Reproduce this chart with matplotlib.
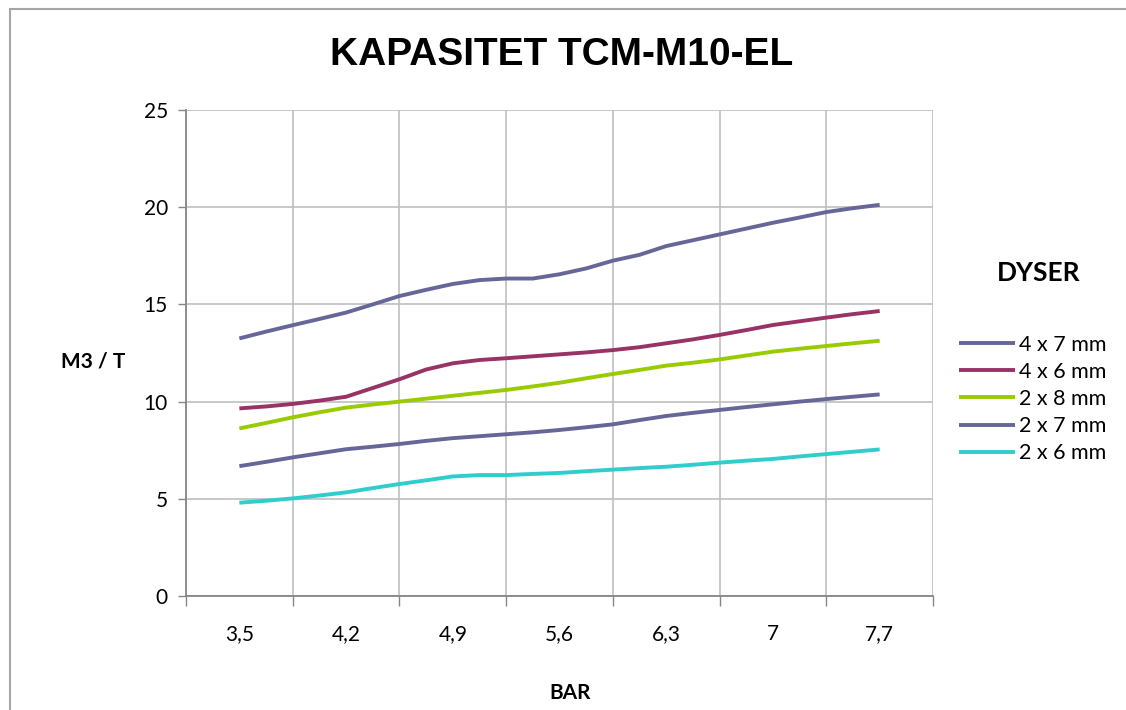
import numpy as np
import matplotlib
matplotlib.use('Agg')
import matplotlib.pyplot as plt
from matplotlib.patches import Rectangle

# Pressure (bar), one point per 0.175 bar from 3.5 to 7.7
bar = np.round(np.arange(25) * 0.175 + 3.5, 3)
tick_labels = ['3,5', '4,2', '4,9', '5,6', '6,3', '7', '7,7']

# Capacity (m3/h) per nozzle setup
d4x7 = [13.25, 13.6, 13.93, 14.25, 14.58, 15.0, 15.43, 15.75, 16.05, 16.25, 16.33, 16.33, 16.55,
        16.85, 17.25, 17.55, 18.0, 18.3, 18.6, 18.9, 19.2, 19.47, 19.75, 19.95, 20.12]
d4x6 = [9.65, 9.75, 9.88, 10.05, 10.25, 10.7, 11.15, 11.65, 11.97, 12.14, 12.23, 12.33, 12.43,
        12.53, 12.65, 12.8, 13.0, 13.2, 13.43, 13.68, 13.94, 14.13, 14.32, 14.5, 14.66]
d2x8 = [8.62, 8.9, 9.19, 9.45, 9.69, 9.85, 10.0, 10.15, 10.3, 10.45, 10.6, 10.78, 10.97,
        11.2, 11.42, 11.63, 11.85, 12.0, 12.17, 12.37, 12.57, 12.72, 12.86, 13.0, 13.13]
d2x7 = [6.68, 6.9, 7.13, 7.34, 7.55, 7.68, 7.82, 7.98, 8.12, 8.22, 8.32, 8.42, 8.54,
        8.68, 8.83, 9.05, 9.26, 9.42, 9.57, 9.72, 9.86, 10.0, 10.13, 10.25, 10.37]
d2x6 = [4.8, 4.9, 5.02, 5.17, 5.33, 5.55, 5.76, 5.95, 6.15, 6.22, 6.22, 6.28, 6.33,
        6.42, 6.5, 6.58, 6.65, 6.75, 6.86, 6.96, 7.05, 7.18, 7.3, 7.42, 7.54]

series = [('4 x 7 mm', d4x7, '#666699'),
          ('4 x 6 mm', d4x6, '#993366'),
          ('2 x 8 mm', d2x8, '#99CC00'),
          ('2 x 7 mm', d2x7, '#666699'),
          ('2 x 6 mm', d2x6, '#33CCCC')]

fig = plt.figure(figsize=(11.26, 7.1), dpi=100)
ax = fig.add_axes([186 / 1126, 1 - 596 / 710, (933 - 186) / 1126, (596 - 110) / 710])

for name, vals, col in series:
    ax.plot(bar, vals, color=col, lw=2.8, label=name, solid_capstyle='butt')

# category-style x axis: labels in the middle, grid between
ax.set_xlim(3.15, 8.05)
ax.set_ylim(0, 25)
ax.set_xticks(bar[::4])
ax.set_xticklabels(tick_labels)
ax.set_xticks(np.arange(3.15, 8.06, 0.7), minor=True)
ax.set_yticks(range(0, 26, 5))
ax.tick_params(axis='x', which='major', length=0, pad=20, labelsize=15)
ax.tick_params(axis='x', which='minor', length=7, width=1, color='#868686', direction='out')
ax.tick_params(axis='y', length=6, width=1, color='#868686', pad=7, labelsize=15)
for lab in ax.get_xticklabels() + ax.get_yticklabels():
    lab.set_family('Lato')

ax.grid(True, which='minor', axis='x', color='#BFBFBF', lw=1.2)
ax.grid(True, which='major', axis='y', color='#BFBFBF', lw=1.2)
ax.set_axisbelow(True)
for s in ['top', 'right']:
    ax.spines[s].set_visible(False)
for s in ['left', 'bottom']:
    ax.spines[s].set_color('#868686')
    ax.spines[s].set_linewidth(1.3)

fig.text(562 / 1126, 1 - 55 / 710, 'KAPASITET TCM-M10-EL', ha='center', va='center',
         fontsize=28, fontweight='bold', family='Liberation Sans')
fig.text(93 / 1126, 1 - 362 / 710, 'M3 / T', ha='center', va='center',
         fontsize=15, fontweight='bold', family='Lato')
fig.text(570 / 1126, 1 - 693 / 710, 'BAR', ha='center', va='center',
         fontsize=15, fontweight='bold', family='Lato')
fig.text(1039 / 1126, 1 - 273 / 710, 'DYSER', ha='center', va='center',
         fontsize=19, fontweight='bold', family='Lato')

leg = ax.legend(loc='upper left', bbox_to_anchor=(948 / 1126, 1 - 324 / 710),
                bbox_transform=fig.transFigure, frameon=False, handlelength=2.6,
                handletextpad=0.2, labelspacing=0.33, borderpad=0,
                prop={'family': 'Lato', 'size': 15.5})

# chart area border
fig.patches.append(Rectangle((10 / 1126, -0.1), 1.2, 1 - 9 / 710 + 0.1, transform=fig.transFigure,
                             fill=False, edgecolor='#A6A6A6', lw=1.5))

fig.savefig('out.png', dpi=100)
